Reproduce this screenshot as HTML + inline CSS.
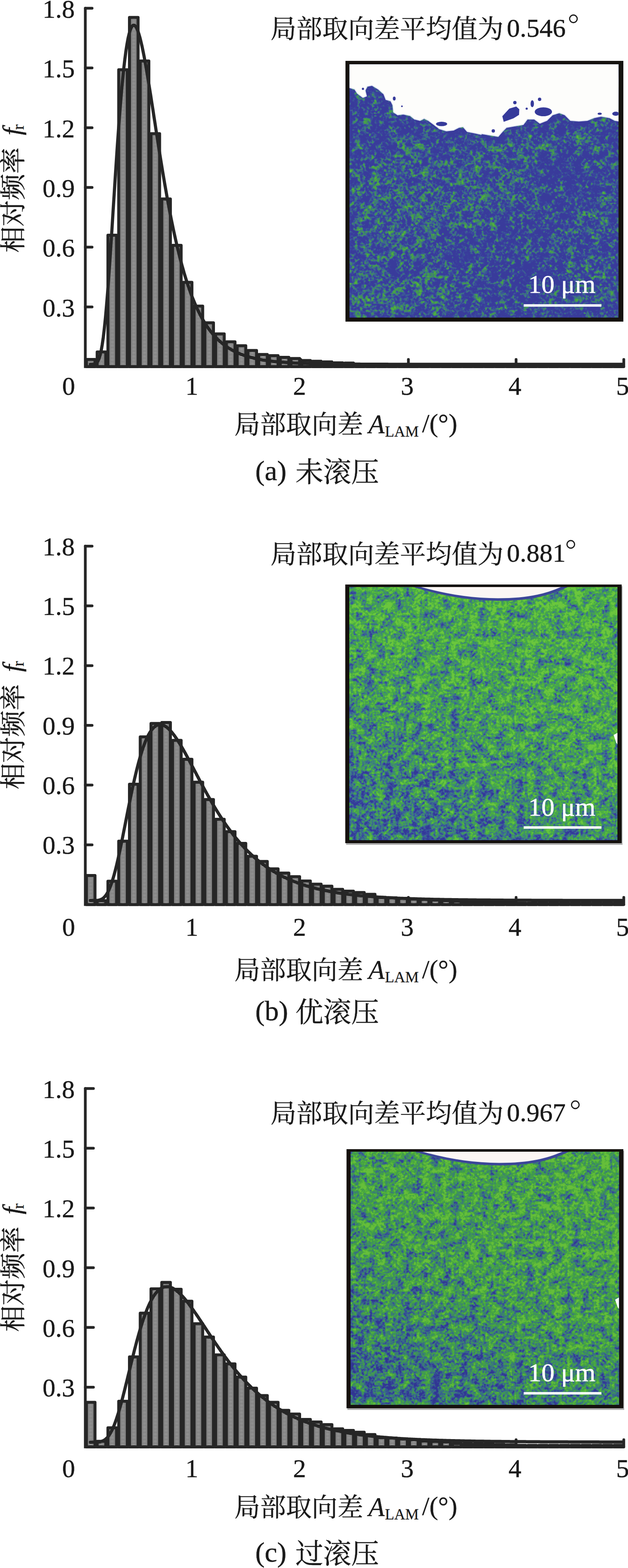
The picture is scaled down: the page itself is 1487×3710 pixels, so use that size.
<!DOCTYPE html><html><head><meta charset="utf-8"><title>fig</title><style>html,body{margin:0;padding:0;background:#fff}svg{display:block}text{font-family:"Liberation Serif","Noto Serif CJK SC",serif;fill:#1a1a1a;stroke:#1a1a1a;stroke-width:0.55px}</style></head><body>
<svg width="1487" height="3710" viewBox="0 0 1487 3710">
<defs>
<pattern id="bp" width="25.5" height="3.4" patternUnits="userSpaceOnUse" patternTransform="translate(202.0,0)"><rect width="25.5" height="3.4" fill="#828282"/><rect x="9.35" y="0" width="6.8" height="1.5" fill="#bebebe"/><rect x="9.35" y="1.5" width="6.8" height="1.9" fill="#6a6a6a"/></pattern>
</defs>
<g fill="url(#bp)" stroke="#262626" stroke-width="7" stroke-linejoin="round">
<rect x="204.55" y="850.54" width="20.4" height="16.96"/>
<rect x="230.05" y="832.64" width="20.4" height="34.86"/>
<rect x="255.55" y="556.57" width="20.4" height="310.93"/>
<rect x="281.05" y="165.07" width="20.4" height="702.43"/>
<rect x="306.55" y="41.17" width="20.4" height="826.33"/>
<rect x="332.05" y="144.34" width="20.4" height="723.16"/>
<rect x="357.55" y="316.30" width="20.4" height="551.20"/>
<rect x="383.05" y="470.82" width="20.4" height="396.68"/>
<rect x="408.55" y="580.59" width="20.4" height="286.91"/>
<rect x="434.05" y="667.98" width="20.4" height="199.52"/>
<rect x="459.55" y="724.28" width="20.4" height="143.22"/>
<rect x="485.05" y="763.86" width="20.4" height="103.64"/>
<rect x="510.55" y="790.00" width="20.4" height="77.50"/>
<rect x="536.05" y="808.80" width="20.4" height="58.70"/>
<rect x="561.55" y="818.03" width="20.4" height="49.47"/>
<rect x="587.05" y="829.34" width="20.4" height="38.16"/>
<rect x="612.55" y="838.76" width="20.4" height="28.74"/>
<rect x="638.05" y="841.49" width="20.4" height="26.01"/>
<rect x="663.55" y="845.50" width="20.4" height="22.00"/>
<rect x="689.05" y="848.18" width="20.4" height="19.32"/>
<rect x="714.55" y="852.90" width="20.4" height="14.60"/>
<rect x="740.05" y="854.78" width="20.4" height="12.72"/>
<rect x="765.55" y="856.19" width="20.4" height="11.31"/>
<rect x="791.05" y="858.55" width="20.4" height="8.95"/>
<rect x="816.55" y="859.02" width="20.4" height="8.48"/>
<rect x="842.05" y="861.85" width="20.4" height="5.65"/>
<rect x="867.55" y="862.79" width="20.4" height="4.71"/>
<rect x="893.05" y="863.73" width="20.4" height="3.77"/>
<rect x="918.55" y="865.62" width="20.4" height="1.88"/>
<rect x="944.05" y="865.62" width="20.4" height="1.88"/>
<rect x="969.55" y="865.62" width="20.4" height="1.88"/>
<rect x="995.05" y="865.62" width="20.4" height="1.88"/>
<rect x="1020.55" y="865.62" width="20.4" height="1.88"/>
<rect x="1046.05" y="865.62" width="20.4" height="1.88"/>
<rect x="1071.55" y="865.62" width="20.4" height="1.88"/>
<rect x="1097.05" y="865.62" width="20.4" height="1.88"/>
<rect x="1122.55" y="865.62" width="20.4" height="1.88"/>
<rect x="1148.05" y="865.62" width="20.4" height="1.88"/>
<rect x="1173.55" y="865.62" width="20.4" height="1.88"/>
<rect x="1199.05" y="865.62" width="20.4" height="1.88"/>
<rect x="1224.55" y="865.62" width="20.4" height="1.88"/>
<rect x="1250.05" y="865.62" width="20.4" height="1.88"/>
<rect x="1275.55" y="865.62" width="20.4" height="1.88"/>
<rect x="1301.05" y="865.62" width="20.4" height="1.88"/>
<rect x="1326.55" y="865.62" width="20.4" height="1.88"/>
<rect x="1352.05" y="865.62" width="20.4" height="1.88"/>
<rect x="1377.55" y="865.62" width="20.4" height="1.88"/>
<rect x="1403.05" y="865.62" width="20.4" height="1.88"/>
<rect x="1428.55" y="865.62" width="20.4" height="1.88"/>
<rect x="1454.05" y="865.62" width="20.4" height="1.88"/>
</g>
<path d="M214.0,862.0 L216.5,862.0 L219.1,861.9 L221.6,861.7 L224.2,861.2 L226.7,860.1 L229.3,858.0 L231.8,854.5 L234.4,849.0 L236.9,841.0 L239.5,830.0 L242.0,815.8 L244.6,798.0 L247.1,776.6 L249.7,751.7 L252.2,723.4 L254.8,691.9 L257.3,657.8 L259.9,621.4 L262.4,583.2 L265.0,543.9 L267.5,503.8 L270.1,463.6 L272.6,423.8 L275.2,384.8 L277.7,346.9 L280.3,310.7 L282.8,276.4 L285.4,244.2 L287.9,214.4 L290.5,187.1 L293.0,162.4 L295.6,140.5 L298.1,121.2 L300.7,104.7 L303.2,90.9 L305.8,79.8 L308.3,71.2 L310.9,65.0 L313.4,61.2 L316.0,59.5 L318.5,60.0 L321.1,62.4 L323.6,66.6 L326.2,72.5 L328.7,79.9 L331.3,88.7 L333.8,98.8 L336.4,109.9 L338.9,122.1 L341.5,135.1 L344.0,148.9 L346.6,163.3 L349.1,178.3 L351.7,193.8 L354.2,209.6 L356.8,225.7 L359.3,242.0 L361.9,258.4 L364.4,275.0 L367.0,291.5 L369.5,308.0 L372.1,324.5 L374.6,340.8 L377.2,356.9 L379.7,372.9 L382.3,388.6 L384.8,404.1 L387.4,419.4 L389.9,434.3 L392.5,448.9 L395.0,463.2 L397.6,477.2 L400.1,490.8 L402.7,504.1 L405.2,517.1 L407.8,529.7 L410.3,541.9 L412.9,553.8 L415.4,565.3 L418.0,576.5 L420.5,587.3 L423.1,597.8 L425.6,608.0 L428.2,617.8 L430.7,627.3 L433.3,636.4 L435.8,645.3 L438.4,653.8 L440.9,662.0 L443.5,669.9 L446.0,677.6 L448.6,685.0 L451.1,692.1 L453.7,698.9 L456.2,705.5 L458.8,711.8 L461.3,717.9 L463.9,723.7 L466.4,729.3 L469.0,734.7 L471.5,739.9 L474.1,744.9 L476.6,749.7 L479.2,754.3 L481.7,758.7 L484.3,763.0 L486.8,767.0 L489.4,770.9 L491.9,774.7 L494.5,778.3 L497.0,781.7 L499.6,785.0 L502.1,788.2 L504.7,791.3 L507.2,794.2 L509.8,797.0 L512.3,799.7 L514.9,802.2 L517.4,804.7 L520.0,807.1 L522.5,809.3 L525.1,811.5 L527.6,813.6 L530.2,815.6 L532.7,817.5 L535.3,819.3 L537.8,821.1 L540.4,822.8 L542.9,824.4 L545.5,825.9 L548.0,827.4 L550.6,828.8 L553.1,830.2 L555.7,831.5 L558.2,832.8 L560.8,834.0 L563.3,835.1 L565.9,836.2 L568.4,837.3 L571.0,838.3 L573.5,839.2 L576.1,840.2 L578.6,841.0 L581.2,841.9 L583.7,842.7 L586.3,843.5 L588.8,844.2 L591.4,845.0 L593.9,845.7 L596.5,846.3 L599.0,846.9 L601.6,847.5 L604.1,848.1 L606.7,848.7 L609.2,849.2 L611.8,849.7 L614.3,850.2 L616.9,850.7 L619.4,851.1 L622.0,851.6 L624.5,852.0 L627.1,852.4 L629.6,852.8 L632.2,853.1 L634.7,853.5 L637.3,853.8 L639.8,854.1 L642.4,854.5 L644.9,854.7 L647.5,855.0 L650.0,855.3 L652.6,855.6 L655.1,855.8 L657.7,856.1 L660.2,856.3 L662.8,856.5 L665.3,856.7 L667.9,856.9 L670.4,857.1 L673.0,857.3 L675.5,857.5 L678.1,857.7 L680.6,857.8 L683.2,858.0 L685.7,858.1 L688.3,858.3 L690.8,858.4 L693.4,858.6 L695.9,858.7 L698.5,858.8 L701.0,858.9 L703.6,859.1 L706.1,859.2 L708.7,859.3 L711.2,859.4 L713.8,859.5 L716.3,859.6 L718.9,859.7 L721.4,859.8 L724.0,859.8 L726.5,859.9 L729.1,860.0 L731.6,860.1 L734.2,860.1 L736.7,860.2 L739.3,860.3 L741.8,860.3 L744.4,860.4 L746.9,860.5 L749.5,860.5 L752.0,860.6 L754.6,860.6 L757.1,860.7 L759.7,860.7 L762.2,860.8 L764.8,860.8 L767.3,860.9 L769.9,860.9 L772.4,860.9 L775.0,861.0 L777.5,861.0 L780.1,861.0 L782.6,861.1 L785.2,861.1 L787.7,861.1 L790.3,861.2 L792.8,861.2 L795.4,861.2 L797.9,861.3 L800.5,861.3 L803.0,861.3 L805.6,861.3 L808.1,861.4 L810.7,861.4 L813.2,861.4 L815.8,861.4 L818.3,861.4 L820.9,861.5 L823.4,861.5 L826.0,861.5 L828.5,861.5 L831.1,861.5 L833.6,861.5 L836.2,861.6 L838.7,861.6 L841.3,861.6 L843.8,861.6 L846.4,861.6 L848.9,861.6 L851.5,861.6 L854.0,861.7 L856.6,861.7 L859.1,861.7 L861.7,861.7 L864.2,861.7 L866.8,861.7 L869.3,861.7 L871.9,861.7 L874.4,861.7 L877.0,861.7 L879.5,861.8 L882.1,861.8 L884.6,861.8 L887.2,861.8 L889.7,861.8 L892.3,861.8 L894.8,861.8 L897.4,861.8 L899.9,861.8 L902.5,861.8 L905.0,861.8 L907.6,861.8 L910.1,861.8 L912.7,861.8 L915.2,861.8 L917.8,861.8 L920.3,861.9 L922.9,861.9 L925.4,861.9 L928.0,861.9 L930.5,861.9 L933.1,861.9 L935.6,861.9 L938.2,861.9 L940.7,861.9 L943.3,861.9 L945.8,861.9 L948.4,861.9 L950.9,861.9 L953.5,861.9 L956.0,861.9 L958.6,861.9 L961.1,861.9 L963.7,861.9 L966.2,861.9 L968.8,861.9 L971.3,861.9 L973.9,861.9 L976.4,861.9 L979.0,861.9 L981.5,861.9 L984.1,861.9 L986.6,861.9 L989.2,861.9 L991.7,861.9 L994.3,861.9 L996.8,861.9 L999.4,861.9 L1001.9,861.9 L1004.5,861.9 L1007.0,861.9 L1009.6,861.9 L1012.1,861.9 L1014.7,861.9 L1017.2,861.9 L1019.8,861.9 L1022.3,862.0 L1024.9,862.0 L1027.4,862.0 L1030.0,862.0 L1032.5,862.0 L1035.1,862.0 L1037.6,862.0 L1040.2,862.0 L1042.7,862.0 L1045.3,862.0 L1047.8,862.0 L1050.4,862.0 L1052.9,862.0 L1055.5,862.0 L1058.0,862.0 L1060.6,862.0 L1063.1,862.0 L1065.7,862.0 L1068.2,862.0 L1070.8,862.0 L1073.3,862.0 L1075.9,862.0 L1078.4,862.0 L1081.0,862.0 L1083.5,862.0 L1086.1,862.0 L1088.6,862.0 L1091.2,862.0 L1093.7,862.0 L1096.3,862.0 L1098.8,862.0 L1101.4,862.0 L1103.9,862.0 L1106.5,862.0 L1109.0,862.0 L1111.6,862.0 L1114.1,862.0 L1116.7,862.0 L1119.2,862.0 L1121.8,862.0 L1124.3,862.0 L1126.9,862.0 L1129.4,862.0 L1132.0,862.0 L1134.5,862.0 L1137.1,862.0 L1139.6,862.0 L1142.2,862.0 L1144.7,862.0 L1147.3,862.0 L1149.8,862.0 L1152.4,862.0 L1154.9,862.0 L1157.5,862.0 L1160.0,862.0 L1162.6,862.0 L1165.1,862.0 L1167.7,862.0 L1170.2,862.0 L1172.8,862.0 L1175.3,862.0 L1177.9,862.0 L1180.4,862.0 L1183.0,862.0 L1185.5,862.0 L1188.1,862.0 L1190.6,862.0 L1193.2,862.0 L1195.7,862.0 L1198.3,862.0 L1200.8,862.0 L1203.4,862.0 L1205.9,862.0 L1208.5,862.0 L1211.0,862.0 L1213.6,862.0 L1216.1,862.0 L1218.7,862.0 L1221.2,862.0 L1223.8,862.0 L1226.3,862.0 L1228.9,862.0 L1231.4,862.0 L1234.0,862.0 L1236.5,862.0 L1239.1,862.0 L1241.6,862.0 L1244.2,862.0 L1246.7,862.0 L1249.3,862.0 L1251.8,862.0 L1254.4,862.0 L1256.9,862.0 L1259.5,862.0 L1262.0,862.0 L1264.6,862.0 L1267.1,862.0 L1269.7,862.0 L1272.2,862.0 L1274.8,862.0 L1277.3,862.0 L1279.9,862.0 L1282.4,862.0 L1285.0,862.0 L1287.5,862.0 L1290.1,862.0 L1292.6,862.0 L1295.2,862.0 L1297.7,862.0 L1300.3,862.0 L1302.8,862.0 L1305.4,862.0 L1307.9,862.0 L1310.5,862.0 L1313.0,862.0 L1315.6,862.0 L1318.1,862.0 L1320.7,862.0 L1323.2,862.0 L1325.8,862.0 L1328.3,862.0 L1330.9,862.0 L1333.4,862.0 L1336.0,862.0 L1338.5,862.0 L1341.1,862.0 L1343.6,862.0 L1346.2,862.0 L1348.7,862.0 L1351.3,862.0 L1353.8,862.0 L1356.4,862.0 L1358.9,862.0 L1361.5,862.0 L1364.0,862.0 L1366.6,862.0 L1369.1,862.0 L1371.7,862.0 L1374.2,862.0 L1376.8,862.0 L1379.3,862.0 L1381.9,862.0 L1384.4,862.0 L1387.0,862.0 L1389.5,862.0 L1392.1,862.0 L1394.6,862.0 L1397.2,862.0 L1399.7,862.0 L1402.3,862.0 L1404.8,862.0 L1407.4,862.0 L1409.9,862.0 L1412.5,862.0 L1415.0,862.0 L1417.6,862.0 L1420.1,862.0 L1422.7,862.0 L1425.2,862.0 L1427.8,862.0 L1430.3,862.0 L1432.9,862.0 L1435.4,862.0 L1438.0,862.0 L1440.5,862.0 L1443.1,862.0 L1445.6,862.0 L1448.2,862.0 L1450.7,862.0 L1453.3,862.0 L1455.8,862.0 L1458.4,862.0 L1460.9,862.0 L1463.5,862.0 L1466.0,862.0 L1468.6,862.0 L1471.1,862.0 L1473.7,862.0 L1476.2,862.0" fill="none" stroke="#262626" stroke-width="7.5" stroke-linejoin="round" stroke-linecap="round"/>
<g stroke="#262626" stroke-width="6.5" stroke-linecap="round" fill="none">
<path d="M202.0,19.5 V867.5 H1477.0"/>
<path d="M202.0,726.2 H218.0"/>
<path d="M202.0,584.8 H218.0"/>
<path d="M202.0,443.5 H218.0"/>
<path d="M202.0,302.2 H218.0"/>
<path d="M202.0,160.8 H218.0"/>
<path d="M202.0,19.5 H218.0"/>
<path d="M457.0,867.5 V850.5"/>
<path d="M712.0,867.5 V850.5"/>
<path d="M967.0,867.5 V850.5"/>
<path d="M1222.0,867.5 V850.5"/>
<path d="M1477.0,867.5 V850.5"/>
</g>
<text x="177" y="748.8" font-size="61" text-anchor="end">0.3</text>
<text x="177" y="607.4" font-size="61" text-anchor="end">0.6</text>
<text x="177" y="466.1" font-size="61" text-anchor="end">0.9</text>
<text x="177" y="324.8" font-size="61" text-anchor="end">1.2</text>
<text x="177" y="183.4" font-size="61" text-anchor="end">1.5</text>
<text x="177" y="42.1" font-size="61" text-anchor="end">1.8</text>
<text x="162.5" y="934.2" font-size="61" text-anchor="middle">0</text>
<text x="454.2" y="934.2" font-size="61" text-anchor="middle">1</text>
<text x="709.2" y="934.2" font-size="61" text-anchor="middle">2</text>
<text x="964.2" y="934.2" font-size="61" text-anchor="middle">3</text>
<text x="1219.2" y="934.2" font-size="61" text-anchor="middle">4</text>
<text x="1474.2" y="934.2" font-size="61" text-anchor="middle">5</text>
<g transform="translate(52.5,598) rotate(-90)">
<text x="0" y="0" font-size="62.3">相对频率</text>
<text x="278" y="-3.5" font-size="62" font-style="italic">f</text><text x="291" y="3.5" font-size="38" style="stroke-width:0.4px">r</text>
</g>
<text x="640.5" y="90" font-size="61.3">局部取向差平均值为</text>
<text x="1200" y="86.5" font-size="62">0.546</text>
<circle cx="1357.75" cy="44.5" r="9" fill="none" stroke="#1a1a1a" stroke-width="2.8"/>
<text x="555" y="1025.5" font-size="61">局部取向差</text>
<text x="872.5" y="1024.5" font-size="62.5" font-style="italic" style="stroke-width:0.35px">A</text>
<text x="911.5" y="1032.5" font-size="36" style="stroke-width:0.35px">LAM</text>
<text x="999.5" y="1022.0" font-size="62" style="stroke-width:0.45px">/(°)</text>
<text x="604.5" y="1136.0" font-size="66.5">(a)</text>
<text x="699.5" y="1140" font-size="66">未滚压</text>
<g fill="url(#bp)" stroke="#262626" stroke-width="7" stroke-linejoin="round">
<rect x="204.55" y="2071.52" width="20.4" height="68.78"/>
<rect x="230.05" y="2130.88" width="20.4" height="9.42"/>
<rect x="255.55" y="2084.94" width="20.4" height="55.36"/>
<rect x="281.05" y="1990.25" width="20.4" height="150.05"/>
<rect x="306.55" y="1855.51" width="20.4" height="284.79"/>
<rect x="332.05" y="1743.39" width="20.4" height="396.91"/>
<rect x="357.55" y="1711.82" width="20.4" height="428.48"/>
<rect x="383.05" y="1709.47" width="20.4" height="430.83"/>
<rect x="408.55" y="1751.87" width="20.4" height="388.43"/>
<rect x="434.05" y="1796.62" width="20.4" height="343.68"/>
<rect x="459.55" y="1850.80" width="20.4" height="289.50"/>
<rect x="485.05" y="1891.79" width="20.4" height="248.51"/>
<rect x="510.55" y="1938.43" width="20.4" height="201.87"/>
<rect x="536.05" y="1967.64" width="20.4" height="172.66"/>
<rect x="561.55" y="1995.43" width="20.4" height="144.87"/>
<rect x="587.05" y="2026.06" width="20.4" height="114.24"/>
<rect x="612.55" y="2038.30" width="20.4" height="102.00"/>
<rect x="638.05" y="2055.74" width="20.4" height="84.56"/>
<rect x="663.55" y="2065.63" width="20.4" height="74.67"/>
<rect x="689.05" y="2074.34" width="20.4" height="65.96"/>
<rect x="714.55" y="2084.47" width="20.4" height="55.83"/>
<rect x="740.05" y="2092.01" width="20.4" height="48.29"/>
<rect x="765.55" y="2096.72" width="20.4" height="43.58"/>
<rect x="791.05" y="2104.26" width="20.4" height="36.04"/>
<rect x="816.55" y="2108.50" width="20.4" height="31.80"/>
<rect x="842.05" y="2111.80" width="20.4" height="28.50"/>
<rect x="867.55" y="2116.04" width="20.4" height="24.26"/>
<rect x="893.05" y="2123.20" width="20.4" height="17.10"/>
<rect x="918.55" y="2124.19" width="20.4" height="16.11"/>
<rect x="944.05" y="2125.51" width="20.4" height="14.79"/>
<rect x="969.55" y="2127.20" width="20.4" height="13.10"/>
<rect x="995.05" y="2128.19" width="20.4" height="12.11"/>
<rect x="1020.55" y="2129.46" width="20.4" height="10.84"/>
<rect x="1046.05" y="2130.88" width="20.4" height="9.42"/>
<rect x="1071.55" y="2132.29" width="20.4" height="8.01"/>
<rect x="1097.05" y="2134.18" width="20.4" height="6.12"/>
<rect x="1122.55" y="2134.65" width="20.4" height="5.65"/>
<rect x="1148.05" y="2135.12" width="20.4" height="5.18"/>
<rect x="1173.55" y="2135.59" width="20.4" height="4.71"/>
<rect x="1199.05" y="2136.06" width="20.4" height="4.24"/>
<rect x="1224.55" y="2137.00" width="20.4" height="3.30"/>
<rect x="1250.05" y="2137.00" width="20.4" height="3.30"/>
<rect x="1275.55" y="2137.00" width="20.4" height="3.30"/>
<rect x="1301.05" y="2137.00" width="20.4" height="3.30"/>
<rect x="1326.55" y="2137.00" width="20.4" height="3.30"/>
<rect x="1352.05" y="2137.00" width="20.4" height="3.30"/>
<rect x="1377.55" y="2137.00" width="20.4" height="3.30"/>
<rect x="1403.05" y="2137.00" width="20.4" height="3.30"/>
<rect x="1428.55" y="2137.00" width="20.4" height="3.30"/>
<rect x="1454.05" y="2137.00" width="20.4" height="3.30"/>
</g>
<path d="M214.0,2130.6 L216.5,2130.6 L219.1,2130.6 L221.6,2130.6 L224.2,2130.6 L226.7,2130.5 L229.3,2130.4 L231.8,2130.1 L234.4,2129.7 L236.9,2129.1 L239.5,2128.1 L242.0,2126.8 L244.6,2125.0 L247.1,2122.6 L249.7,2119.7 L252.2,2116.1 L254.8,2111.8 L257.3,2106.8 L259.9,2101.0 L262.4,2094.5 L265.0,2087.2 L267.5,2079.1 L270.1,2070.3 L272.6,2060.9 L275.2,2050.8 L277.7,2040.1 L280.3,2028.9 L282.8,2017.2 L285.4,2005.2 L287.9,1992.8 L290.5,1980.2 L293.0,1967.4 L295.6,1954.5 L298.1,1941.6 L300.7,1928.6 L303.2,1915.8 L305.8,1903.0 L308.3,1890.5 L310.9,1878.2 L313.4,1866.2 L316.0,1854.5 L318.5,1843.2 L321.1,1832.3 L323.6,1821.8 L326.2,1811.7 L328.7,1802.2 L331.3,1793.0 L333.8,1784.4 L336.4,1776.3 L338.9,1768.8 L341.5,1761.7 L344.0,1755.1 L346.6,1749.1 L349.1,1743.6 L351.7,1738.6 L354.2,1734.1 L356.8,1730.1 L359.3,1726.6 L361.9,1723.5 L364.4,1721.0 L367.0,1718.8 L369.5,1717.1 L372.1,1715.9 L374.6,1715.0 L377.2,1714.5 L379.7,1714.4 L382.3,1714.7 L384.8,1715.3 L387.4,1716.3 L389.9,1717.5 L392.5,1719.1 L395.0,1720.9 L397.6,1723.0 L400.1,1725.4 L402.7,1728.0 L405.2,1730.8 L407.8,1733.8 L410.3,1737.0 L412.9,1740.4 L415.4,1744.0 L418.0,1747.7 L420.5,1751.5 L423.1,1755.5 L425.6,1759.6 L428.2,1763.9 L430.7,1768.2 L433.3,1772.6 L435.8,1777.1 L438.4,1781.7 L440.9,1786.3 L443.5,1791.0 L446.0,1795.7 L448.6,1800.4 L451.1,1805.2 L453.7,1810.0 L456.2,1814.9 L458.8,1819.7 L461.3,1824.6 L463.9,1829.4 L466.4,1834.3 L469.0,1839.1 L471.5,1843.9 L474.1,1848.7 L476.6,1853.5 L479.2,1858.3 L481.7,1863.0 L484.3,1867.7 L486.8,1872.4 L489.4,1877.0 L491.9,1881.6 L494.5,1886.1 L497.0,1890.6 L499.6,1895.1 L502.1,1899.5 L504.7,1903.8 L507.2,1908.1 L509.8,1912.4 L512.3,1916.6 L514.9,1920.7 L517.4,1924.8 L520.0,1928.8 L522.5,1932.8 L525.1,1936.7 L527.6,1940.6 L530.2,1944.4 L532.7,1948.1 L535.3,1951.8 L537.8,1955.5 L540.4,1959.0 L542.9,1962.5 L545.5,1966.0 L548.0,1969.4 L550.6,1972.7 L553.1,1976.0 L555.7,1979.2 L558.2,1982.4 L560.8,1985.5 L563.3,1988.5 L565.9,1991.5 L568.4,1994.5 L571.0,1997.3 L573.5,2000.2 L576.1,2003.0 L578.6,2005.7 L581.2,2008.4 L583.7,2011.0 L586.3,2013.5 L588.8,2016.1 L591.4,2018.5 L593.9,2021.0 L596.5,2023.3 L599.0,2025.6 L601.6,2027.9 L604.1,2030.2 L606.7,2032.3 L609.2,2034.5 L611.8,2036.6 L614.3,2038.6 L616.9,2040.6 L619.4,2042.6 L622.0,2044.5 L624.5,2046.4 L627.1,2048.3 L629.6,2050.1 L632.2,2051.9 L634.7,2053.6 L637.3,2055.3 L639.8,2057.0 L642.4,2058.6 L644.9,2060.2 L647.5,2061.7 L650.0,2063.2 L652.6,2064.7 L655.1,2066.2 L657.7,2067.6 L660.2,2069.0 L662.8,2070.4 L665.3,2071.7 L667.9,2073.0 L670.4,2074.3 L673.0,2075.5 L675.5,2076.7 L678.1,2077.9 L680.6,2079.1 L683.2,2080.2 L685.7,2081.4 L688.3,2082.5 L690.8,2083.5 L693.4,2084.6 L695.9,2085.6 L698.5,2086.6 L701.0,2087.6 L703.6,2088.5 L706.1,2089.4 L708.7,2090.4 L711.2,2091.2 L713.8,2092.1 L716.3,2093.0 L718.9,2093.8 L721.4,2094.6 L724.0,2095.4 L726.5,2096.2 L729.1,2096.9 L731.6,2097.7 L734.2,2098.4 L736.7,2099.1 L739.3,2099.8 L741.8,2100.5 L744.4,2101.2 L746.9,2101.8 L749.5,2102.4 L752.0,2103.1 L754.6,2103.7 L757.1,2104.3 L759.7,2104.8 L762.2,2105.4 L764.8,2106.0 L767.3,2106.5 L769.9,2107.0 L772.4,2107.5 L775.0,2108.0 L777.5,2108.5 L780.1,2109.0 L782.6,2109.5 L785.2,2110.0 L787.7,2110.4 L790.3,2110.8 L792.8,2111.3 L795.4,2111.7 L797.9,2112.1 L800.5,2112.5 L803.0,2112.9 L805.6,2113.3 L808.1,2113.7 L810.7,2114.0 L813.2,2114.4 L815.8,2114.7 L818.3,2115.1 L820.9,2115.4 L823.4,2115.7 L826.0,2116.1 L828.5,2116.4 L831.1,2116.7 L833.6,2117.0 L836.2,2117.3 L838.7,2117.6 L841.3,2117.8 L843.8,2118.1 L846.4,2118.4 L848.9,2118.7 L851.5,2118.9 L854.0,2119.2 L856.6,2119.4 L859.1,2119.6 L861.7,2119.9 L864.2,2120.1 L866.8,2120.3 L869.3,2120.5 L871.9,2120.8 L874.4,2121.0 L877.0,2121.2 L879.5,2121.4 L882.1,2121.6 L884.6,2121.8 L887.2,2121.9 L889.7,2122.1 L892.3,2122.3 L894.8,2122.5 L897.4,2122.7 L899.9,2122.8 L902.5,2123.0 L905.0,2123.1 L907.6,2123.3 L910.1,2123.5 L912.7,2123.6 L915.2,2123.8 L917.8,2123.9 L920.3,2124.0 L922.9,2124.2 L925.4,2124.3 L928.0,2124.4 L930.5,2124.6 L933.1,2124.7 L935.6,2124.8 L938.2,2124.9 L940.7,2125.1 L943.3,2125.2 L945.8,2125.3 L948.4,2125.4 L950.9,2125.5 L953.5,2125.6 L956.0,2125.7 L958.6,2125.8 L961.1,2125.9 L963.7,2126.0 L966.2,2126.1 L968.8,2126.2 L971.3,2126.3 L973.9,2126.4 L976.4,2126.5 L979.0,2126.5 L981.5,2126.6 L984.1,2126.7 L986.6,2126.8 L989.2,2126.9 L991.7,2126.9 L994.3,2127.0 L996.8,2127.1 L999.4,2127.2 L1001.9,2127.2 L1004.5,2127.3 L1007.0,2127.4 L1009.6,2127.4 L1012.1,2127.5 L1014.7,2127.6 L1017.2,2127.6 L1019.8,2127.7 L1022.3,2127.7 L1024.9,2127.8 L1027.4,2127.9 L1030.0,2127.9 L1032.5,2128.0 L1035.1,2128.0 L1037.6,2128.1 L1040.2,2128.1 L1042.7,2128.2 L1045.3,2128.2 L1047.8,2128.3 L1050.4,2128.3 L1052.9,2128.4 L1055.5,2128.4 L1058.0,2128.5 L1060.6,2128.5 L1063.1,2128.5 L1065.7,2128.6 L1068.2,2128.6 L1070.8,2128.7 L1073.3,2128.7 L1075.9,2128.7 L1078.4,2128.8 L1081.0,2128.8 L1083.5,2128.8 L1086.1,2128.9 L1088.6,2128.9 L1091.2,2128.9 L1093.7,2129.0 L1096.3,2129.0 L1098.8,2129.0 L1101.4,2129.1 L1103.9,2129.1 L1106.5,2129.1 L1109.0,2129.2 L1111.6,2129.2 L1114.1,2129.2 L1116.7,2129.2 L1119.2,2129.3 L1121.8,2129.3 L1124.3,2129.3 L1126.9,2129.3 L1129.4,2129.4 L1132.0,2129.4 L1134.5,2129.4 L1137.1,2129.4 L1139.6,2129.5 L1142.2,2129.5 L1144.7,2129.5 L1147.3,2129.5 L1149.8,2129.6 L1152.4,2129.6 L1154.9,2129.6 L1157.5,2129.6 L1160.0,2129.6 L1162.6,2129.7 L1165.1,2129.7 L1167.7,2129.7 L1170.2,2129.7 L1172.8,2129.7 L1175.3,2129.7 L1177.9,2129.8 L1180.4,2129.8 L1183.0,2129.8 L1185.5,2129.8 L1188.1,2129.8 L1190.6,2129.8 L1193.2,2129.9 L1195.7,2129.9 L1198.3,2129.9 L1200.8,2129.9 L1203.4,2129.9 L1205.9,2129.9 L1208.5,2129.9 L1211.0,2129.9 L1213.6,2130.0 L1216.1,2130.0 L1218.7,2130.0 L1221.2,2130.0 L1223.8,2130.0 L1226.3,2130.0 L1228.9,2130.0 L1231.4,2130.0 L1234.0,2130.1 L1236.5,2130.1 L1239.1,2130.1 L1241.6,2130.1 L1244.2,2130.1 L1246.7,2130.1 L1249.3,2130.1 L1251.8,2130.1 L1254.4,2130.1 L1256.9,2130.1 L1259.5,2130.2 L1262.0,2130.2 L1264.6,2130.2 L1267.1,2130.2 L1269.7,2130.2 L1272.2,2130.2 L1274.8,2130.2 L1277.3,2130.2 L1279.9,2130.2 L1282.4,2130.2 L1285.0,2130.2 L1287.5,2130.2 L1290.1,2130.2 L1292.6,2130.3 L1295.2,2130.3 L1297.7,2130.3 L1300.3,2130.3 L1302.8,2130.3 L1305.4,2130.3 L1307.9,2130.3 L1310.5,2130.3 L1313.0,2130.3 L1315.6,2130.3 L1318.1,2130.3 L1320.7,2130.3 L1323.2,2130.3 L1325.8,2130.3 L1328.3,2130.3 L1330.9,2130.3 L1333.4,2130.4 L1336.0,2130.4 L1338.5,2130.4 L1341.1,2130.4 L1343.6,2130.4 L1346.2,2130.4 L1348.7,2130.4 L1351.3,2130.4 L1353.8,2130.4 L1356.4,2130.4 L1358.9,2130.4 L1361.5,2130.4 L1364.0,2130.4 L1366.6,2130.4 L1369.1,2130.4 L1371.7,2130.4 L1374.2,2130.4 L1376.8,2130.4 L1379.3,2130.4 L1381.9,2130.4 L1384.4,2130.4 L1387.0,2130.4 L1389.5,2130.4 L1392.1,2130.4 L1394.6,2130.5 L1397.2,2130.5 L1399.7,2130.5 L1402.3,2130.5 L1404.8,2130.5 L1407.4,2130.5 L1409.9,2130.5 L1412.5,2130.5 L1415.0,2130.5 L1417.6,2130.5 L1420.1,2130.5 L1422.7,2130.5 L1425.2,2130.5 L1427.8,2130.5 L1430.3,2130.5 L1432.9,2130.5 L1435.4,2130.5 L1438.0,2130.5 L1440.5,2130.5 L1443.1,2130.5 L1445.6,2130.5 L1448.2,2130.5 L1450.7,2130.5 L1453.3,2130.5 L1455.8,2130.5 L1458.4,2130.5 L1460.9,2130.5 L1463.5,2130.5 L1466.0,2130.5 L1468.6,2130.5 L1471.1,2130.5 L1473.7,2130.5 L1476.2,2130.5" fill="none" stroke="#262626" stroke-width="7.5" stroke-linejoin="round" stroke-linecap="round"/>
<g stroke="#262626" stroke-width="6.5" stroke-linecap="round" fill="none">
<path d="M202.0,1292.0 V2140.3 H1477.0"/>
<path d="M202.0,1999.0 H218.0"/>
<path d="M202.0,1857.6 H218.0"/>
<path d="M202.0,1716.3 H218.0"/>
<path d="M202.0,1575.0 H218.0"/>
<path d="M202.0,1433.6 H218.0"/>
<path d="M202.0,1292.3 H218.0"/>
<path d="M457.0,2140.3 V2123.3"/>
<path d="M712.0,2140.3 V2123.3"/>
<path d="M967.0,2140.3 V2123.3"/>
<path d="M1222.0,2140.3 V2123.3"/>
<path d="M1477.0,2140.3 V2123.3"/>
</g>
<text x="177" y="2020.2" font-size="61" text-anchor="end">0.3</text>
<text x="177" y="1878.8" font-size="61" text-anchor="end">0.6</text>
<text x="177" y="1737.5" font-size="61" text-anchor="end">0.9</text>
<text x="177" y="1596.2" font-size="61" text-anchor="end">1.2</text>
<text x="177" y="1454.8" font-size="61" text-anchor="end">1.5</text>
<text x="177" y="1313.5" font-size="61" text-anchor="end">1.8</text>
<text x="162.5" y="2214.0" font-size="61" text-anchor="middle">0</text>
<text x="454.2" y="2214.0" font-size="61" text-anchor="middle">1</text>
<text x="709.2" y="2214.0" font-size="61" text-anchor="middle">2</text>
<text x="964.2" y="2214.0" font-size="61" text-anchor="middle">3</text>
<text x="1219.2" y="2214.0" font-size="61" text-anchor="middle">4</text>
<text x="1474.2" y="2214.0" font-size="61" text-anchor="middle">5</text>
<g transform="translate(52.5,1867.8) rotate(-90)">
<text x="0" y="0" font-size="62.3">相对频率</text>
<text x="278" y="-3.5" font-size="62" font-style="italic">f</text><text x="291" y="3.5" font-size="38" style="stroke-width:0.4px">r</text>
</g>
<text x="640.5" y="1332.5" font-size="61.3">局部取向差平均值为</text>
<text x="1200" y="1329.0" font-size="62">0.881</text>
<circle cx="1351.5" cy="1288" r="9" fill="none" stroke="#1a1a1a" stroke-width="2.8"/>
<text x="555" y="2317" font-size="61">局部取向差</text>
<text x="872.5" y="2316.0" font-size="62.5" font-style="italic" style="stroke-width:0.35px">A</text>
<text x="911.5" y="2324.0" font-size="36" style="stroke-width:0.35px">LAM</text>
<text x="999.5" y="2313.5" font-size="62" style="stroke-width:0.45px">/(°)</text>
<text x="604.5" y="2414.0" font-size="66.5">(b)</text>
<text x="699.5" y="2418" font-size="66">优滚压</text>
<g fill="url(#bp)" stroke="#262626" stroke-width="7" stroke-linejoin="round">
<rect x="204.55" y="3317.97" width="20.4" height="105.53"/>
<rect x="230.05" y="3410.31" width="20.4" height="13.19"/>
<rect x="255.55" y="3378.27" width="20.4" height="45.23"/>
<rect x="281.05" y="3315.62" width="20.4" height="107.88"/>
<rect x="306.55" y="3210.56" width="20.4" height="212.94"/>
<rect x="332.05" y="3106.91" width="20.4" height="316.59"/>
<rect x="357.55" y="3049.44" width="20.4" height="374.06"/>
<rect x="383.05" y="3034.36" width="20.4" height="389.14"/>
<rect x="408.55" y="3050.38" width="20.4" height="373.12"/>
<rect x="434.05" y="3078.65" width="20.4" height="344.85"/>
<rect x="459.55" y="3131.88" width="20.4" height="291.62"/>
<rect x="485.05" y="3163.45" width="20.4" height="260.05"/>
<rect x="510.55" y="3205.85" width="20.4" height="217.65"/>
<rect x="536.05" y="3227.05" width="20.4" height="196.45"/>
<rect x="561.55" y="3258.14" width="20.4" height="165.36"/>
<rect x="587.05" y="3284.52" width="20.4" height="138.98"/>
<rect x="612.55" y="3301.95" width="20.4" height="121.55"/>
<rect x="638.05" y="3317.97" width="20.4" height="105.53"/>
<rect x="663.55" y="3337.05" width="20.4" height="86.45"/>
<rect x="689.05" y="3345.77" width="20.4" height="77.73"/>
<rect x="714.55" y="3358.49" width="20.4" height="65.01"/>
<rect x="740.05" y="3364.61" width="20.4" height="58.89"/>
<rect x="765.55" y="3370.74" width="20.4" height="52.76"/>
<rect x="791.05" y="3380.63" width="20.4" height="42.87"/>
<rect x="816.55" y="3384.40" width="20.4" height="39.10"/>
<rect x="842.05" y="3388.64" width="20.4" height="34.86"/>
<rect x="867.55" y="3394.29" width="20.4" height="29.21"/>
<rect x="893.05" y="3401.50" width="20.4" height="22.00"/>
<rect x="918.55" y="3402.49" width="20.4" height="21.01"/>
<rect x="944.05" y="3404.80" width="20.4" height="18.70"/>
<rect x="969.55" y="3406.54" width="20.4" height="16.96"/>
<rect x="995.05" y="3409.84" width="20.4" height="13.66"/>
<rect x="1020.55" y="3410.78" width="20.4" height="12.72"/>
<rect x="1046.05" y="3411.49" width="20.4" height="12.01"/>
<rect x="1071.55" y="3415.49" width="20.4" height="8.01"/>
<rect x="1097.05" y="3416.43" width="20.4" height="7.07"/>
<rect x="1122.55" y="3416.43" width="20.4" height="7.07"/>
<rect x="1148.05" y="3416.90" width="20.4" height="6.60"/>
<rect x="1173.55" y="3417.85" width="20.4" height="5.65"/>
<rect x="1199.05" y="3418.79" width="20.4" height="4.71"/>
<rect x="1224.55" y="3419.73" width="20.4" height="3.77"/>
<rect x="1250.05" y="3419.73" width="20.4" height="3.77"/>
<rect x="1275.55" y="3419.73" width="20.4" height="3.77"/>
<rect x="1301.05" y="3419.73" width="20.4" height="3.77"/>
<rect x="1326.55" y="3419.73" width="20.4" height="3.77"/>
<rect x="1352.05" y="3419.73" width="20.4" height="3.77"/>
<rect x="1377.55" y="3419.73" width="20.4" height="3.77"/>
<rect x="1403.05" y="3419.73" width="20.4" height="3.77"/>
<rect x="1428.55" y="3419.73" width="20.4" height="3.77"/>
<rect x="1454.05" y="3419.73" width="20.4" height="3.77"/>
</g>
<path d="M214.0,3412.2 L216.5,3412.2 L219.1,3412.2 L221.6,3412.2 L224.2,3412.2 L226.7,3412.1 L229.3,3412.1 L231.8,3411.9 L234.4,3411.7 L236.9,3411.3 L239.5,3410.7 L242.0,3409.9 L244.6,3408.8 L247.1,3407.4 L249.7,3405.6 L252.2,3403.3 L254.8,3400.6 L257.3,3397.3 L259.9,3393.5 L262.4,3389.1 L265.0,3384.2 L267.5,3378.7 L270.1,3372.6 L272.6,3366.0 L275.2,3358.9 L277.7,3351.2 L280.3,3343.1 L282.8,3334.5 L285.4,3325.6 L287.9,3316.3 L290.5,3306.7 L293.0,3296.8 L295.6,3286.7 L298.1,3276.4 L300.7,3266.1 L303.2,3255.6 L305.8,3245.2 L308.3,3234.7 L310.9,3224.3 L313.4,3214.1 L316.0,3203.9 L318.5,3193.9 L321.1,3184.1 L323.6,3174.5 L326.2,3165.2 L328.7,3156.2 L331.3,3147.4 L333.8,3139.0 L336.4,3130.9 L338.9,3123.1 L341.5,3115.7 L344.0,3108.7 L346.6,3102.0 L349.1,3095.7 L351.7,3089.8 L354.2,3084.2 L356.8,3079.1 L359.3,3074.3 L361.9,3069.9 L364.4,3065.9 L367.0,3062.2 L369.5,3058.9 L372.1,3056.0 L374.6,3053.4 L377.2,3051.2 L379.7,3049.2 L382.3,3047.7 L384.8,3046.4 L387.4,3045.4 L389.9,3044.7 L392.5,3044.4 L395.0,3044.2 L397.6,3044.4 L400.1,3044.8 L402.7,3045.4 L405.2,3046.3 L407.8,3047.4 L410.3,3048.7 L412.9,3050.2 L415.4,3051.9 L418.0,3053.8 L420.5,3055.9 L423.1,3058.1 L425.6,3060.5 L428.2,3063.0 L430.7,3065.6 L433.3,3068.4 L435.8,3071.3 L438.4,3074.3 L440.9,3077.4 L443.5,3080.6 L446.0,3083.9 L448.6,3087.2 L451.1,3090.7 L453.7,3094.2 L456.2,3097.7 L458.8,3101.3 L461.3,3105.0 L463.9,3108.7 L466.4,3112.4 L469.0,3116.2 L471.5,3120.0 L474.1,3123.8 L476.6,3127.7 L479.2,3131.5 L481.7,3135.4 L484.3,3139.2 L486.8,3143.1 L489.4,3147.0 L491.9,3150.8 L494.5,3154.7 L497.0,3158.5 L499.6,3162.4 L502.1,3166.2 L504.7,3170.0 L507.2,3173.7 L509.8,3177.5 L512.3,3181.2 L514.9,3184.9 L517.4,3188.6 L520.0,3192.2 L522.5,3195.9 L525.1,3199.4 L527.6,3203.0 L530.2,3206.5 L532.7,3210.0 L535.3,3213.4 L537.8,3216.8 L540.4,3220.2 L542.9,3223.5 L545.5,3226.8 L548.0,3230.1 L550.6,3233.3 L553.1,3236.4 L555.7,3239.6 L558.2,3242.6 L560.8,3245.7 L563.3,3248.7 L565.9,3251.7 L568.4,3254.6 L571.0,3257.4 L573.5,3260.3 L576.1,3263.1 L578.6,3265.8 L581.2,3268.5 L583.7,3271.2 L586.3,3273.8 L588.8,3276.4 L591.4,3279.0 L593.9,3281.5 L596.5,3283.9 L599.0,3286.3 L601.6,3288.7 L604.1,3291.1 L606.7,3293.4 L609.2,3295.6 L611.8,3297.9 L614.3,3300.0 L616.9,3302.2 L619.4,3304.3 L622.0,3306.4 L624.5,3308.4 L627.1,3310.4 L629.6,3312.4 L632.2,3314.3 L634.7,3316.2 L637.3,3318.1 L639.8,3319.9 L642.4,3321.7 L644.9,3323.5 L647.5,3325.2 L650.0,3326.9 L652.6,3328.6 L655.1,3330.2 L657.7,3331.8 L660.2,3333.4 L662.8,3334.9 L665.3,3336.5 L667.9,3338.0 L670.4,3339.4 L673.0,3340.8 L675.5,3342.3 L678.1,3343.6 L680.6,3345.0 L683.2,3346.3 L685.7,3347.6 L688.3,3348.9 L690.8,3350.1 L693.4,3351.4 L695.9,3352.6 L698.5,3353.7 L701.0,3354.9 L703.6,3356.0 L706.1,3357.2 L708.7,3358.2 L711.2,3359.3 L713.8,3360.4 L716.3,3361.4 L718.9,3362.4 L721.4,3363.4 L724.0,3364.3 L726.5,3365.3 L729.1,3366.2 L731.6,3367.1 L734.2,3368.0 L736.7,3368.9 L739.3,3369.8 L741.8,3370.6 L744.4,3371.4 L746.9,3372.2 L749.5,3373.0 L752.0,3373.8 L754.6,3374.6 L757.1,3375.3 L759.7,3376.0 L762.2,3376.7 L764.8,3377.4 L767.3,3378.1 L769.9,3378.8 L772.4,3379.5 L775.0,3380.1 L777.5,3380.7 L780.1,3381.4 L782.6,3382.0 L785.2,3382.6 L787.7,3383.2 L790.3,3383.7 L792.8,3384.3 L795.4,3384.8 L797.9,3385.4 L800.5,3385.9 L803.0,3386.4 L805.6,3386.9 L808.1,3387.4 L810.7,3387.9 L813.2,3388.4 L815.8,3388.9 L818.3,3389.3 L820.9,3389.8 L823.4,3390.2 L826.0,3390.6 L828.5,3391.0 L831.1,3391.5 L833.6,3391.9 L836.2,3392.3 L838.7,3392.7 L841.3,3393.0 L843.8,3393.4 L846.4,3393.8 L848.9,3394.1 L851.5,3394.5 L854.0,3394.8 L856.6,3395.2 L859.1,3395.5 L861.7,3395.8 L864.2,3396.1 L866.8,3396.4 L869.3,3396.7 L871.9,3397.0 L874.4,3397.3 L877.0,3397.6 L879.5,3397.9 L882.1,3398.2 L884.6,3398.5 L887.2,3398.7 L889.7,3399.0 L892.3,3399.2 L894.8,3399.5 L897.4,3399.7 L899.9,3400.0 L902.5,3400.2 L905.0,3400.4 L907.6,3400.6 L910.1,3400.9 L912.7,3401.1 L915.2,3401.3 L917.8,3401.5 L920.3,3401.7 L922.9,3401.9 L925.4,3402.1 L928.0,3402.3 L930.5,3402.5 L933.1,3402.7 L935.6,3402.8 L938.2,3403.0 L940.7,3403.2 L943.3,3403.4 L945.8,3403.5 L948.4,3403.7 L950.9,3403.9 L953.5,3404.0 L956.0,3404.2 L958.6,3404.3 L961.1,3404.5 L963.7,3404.6 L966.2,3404.8 L968.8,3404.9 L971.3,3405.0 L973.9,3405.2 L976.4,3405.3 L979.0,3405.4 L981.5,3405.5 L984.1,3405.7 L986.6,3405.8 L989.2,3405.9 L991.7,3406.0 L994.3,3406.1 L996.8,3406.3 L999.4,3406.4 L1001.9,3406.5 L1004.5,3406.6 L1007.0,3406.7 L1009.6,3406.8 L1012.1,3406.9 L1014.7,3407.0 L1017.2,3407.1 L1019.8,3407.2 L1022.3,3407.3 L1024.9,3407.4 L1027.4,3407.4 L1030.0,3407.5 L1032.5,3407.6 L1035.1,3407.7 L1037.6,3407.8 L1040.2,3407.9 L1042.7,3407.9 L1045.3,3408.0 L1047.8,3408.1 L1050.4,3408.2 L1052.9,3408.2 L1055.5,3408.3 L1058.0,3408.4 L1060.6,3408.5 L1063.1,3408.5 L1065.7,3408.6 L1068.2,3408.7 L1070.8,3408.7 L1073.3,3408.8 L1075.9,3408.8 L1078.4,3408.9 L1081.0,3409.0 L1083.5,3409.0 L1086.1,3409.1 L1088.6,3409.1 L1091.2,3409.2 L1093.7,3409.2 L1096.3,3409.3 L1098.8,3409.3 L1101.4,3409.4 L1103.9,3409.4 L1106.5,3409.5 L1109.0,3409.5 L1111.6,3409.6 L1114.1,3409.6 L1116.7,3409.7 L1119.2,3409.7 L1121.8,3409.8 L1124.3,3409.8 L1126.9,3409.9 L1129.4,3409.9 L1132.0,3409.9 L1134.5,3410.0 L1137.1,3410.0 L1139.6,3410.1 L1142.2,3410.1 L1144.7,3410.1 L1147.3,3410.2 L1149.8,3410.2 L1152.4,3410.2 L1154.9,3410.3 L1157.5,3410.3 L1160.0,3410.3 L1162.6,3410.4 L1165.1,3410.4 L1167.7,3410.4 L1170.2,3410.5 L1172.8,3410.5 L1175.3,3410.5 L1177.9,3410.5 L1180.4,3410.6 L1183.0,3410.6 L1185.5,3410.6 L1188.1,3410.7 L1190.6,3410.7 L1193.2,3410.7 L1195.7,3410.7 L1198.3,3410.8 L1200.8,3410.8 L1203.4,3410.8 L1205.9,3410.8 L1208.5,3410.9 L1211.0,3410.9 L1213.6,3410.9 L1216.1,3410.9 L1218.7,3410.9 L1221.2,3411.0 L1223.8,3411.0 L1226.3,3411.0 L1228.9,3411.0 L1231.4,3411.0 L1234.0,3411.1 L1236.5,3411.1 L1239.1,3411.1 L1241.6,3411.1 L1244.2,3411.1 L1246.7,3411.2 L1249.3,3411.2 L1251.8,3411.2 L1254.4,3411.2 L1256.9,3411.2 L1259.5,3411.2 L1262.0,3411.3 L1264.6,3411.3 L1267.1,3411.3 L1269.7,3411.3 L1272.2,3411.3 L1274.8,3411.3 L1277.3,3411.3 L1279.9,3411.4 L1282.4,3411.4 L1285.0,3411.4 L1287.5,3411.4 L1290.1,3411.4 L1292.6,3411.4 L1295.2,3411.4 L1297.7,3411.5 L1300.3,3411.5 L1302.8,3411.5 L1305.4,3411.5 L1307.9,3411.5 L1310.5,3411.5 L1313.0,3411.5 L1315.6,3411.5 L1318.1,3411.5 L1320.7,3411.6 L1323.2,3411.6 L1325.8,3411.6 L1328.3,3411.6 L1330.9,3411.6 L1333.4,3411.6 L1336.0,3411.6 L1338.5,3411.6 L1341.1,3411.6 L1343.6,3411.6 L1346.2,3411.7 L1348.7,3411.7 L1351.3,3411.7 L1353.8,3411.7 L1356.4,3411.7 L1358.9,3411.7 L1361.5,3411.7 L1364.0,3411.7 L1366.6,3411.7 L1369.1,3411.7 L1371.7,3411.7 L1374.2,3411.7 L1376.8,3411.7 L1379.3,3411.8 L1381.9,3411.8 L1384.4,3411.8 L1387.0,3411.8 L1389.5,3411.8 L1392.1,3411.8 L1394.6,3411.8 L1397.2,3411.8 L1399.7,3411.8 L1402.3,3411.8 L1404.8,3411.8 L1407.4,3411.8 L1409.9,3411.8 L1412.5,3411.8 L1415.0,3411.8 L1417.6,3411.8 L1420.1,3411.9 L1422.7,3411.9 L1425.2,3411.9 L1427.8,3411.9 L1430.3,3411.9 L1432.9,3411.9 L1435.4,3411.9 L1438.0,3411.9 L1440.5,3411.9 L1443.1,3411.9 L1445.6,3411.9 L1448.2,3411.9 L1450.7,3411.9 L1453.3,3411.9 L1455.8,3411.9 L1458.4,3411.9 L1460.9,3411.9 L1463.5,3411.9 L1466.0,3411.9 L1468.6,3411.9 L1471.1,3411.9 L1473.7,3411.9 L1476.2,3412.0" fill="none" stroke="#262626" stroke-width="7.5" stroke-linejoin="round" stroke-linecap="round"/>
<g stroke="#262626" stroke-width="6.5" stroke-linecap="round" fill="none">
<path d="M202.0,2575.6 V3423.5 H1477.0"/>
<path d="M202.0,3282.2 H221.2"/>
<path d="M202.0,3140.8 H221.2"/>
<path d="M202.0,2999.5 H221.2"/>
<path d="M202.0,2858.2 H221.2"/>
<path d="M202.0,2716.8 H221.2"/>
<path d="M202.0,2575.5 H221.2"/>
<path d="M457.0,3423.5 V3406.5"/>
<path d="M712.0,3423.5 V3406.5"/>
<path d="M967.0,3423.5 V3406.5"/>
<path d="M1222.0,3423.5 V3406.5"/>
<path d="M1477.0,3423.5 V3406.5"/>
</g>
<text x="177" y="3304.4" font-size="61" text-anchor="end">0.3</text>
<text x="177" y="3163.0" font-size="61" text-anchor="end">0.6</text>
<text x="177" y="3021.7" font-size="61" text-anchor="end">0.9</text>
<text x="177" y="2880.4" font-size="61" text-anchor="end">1.2</text>
<text x="177" y="2739.0" font-size="61" text-anchor="end">1.5</text>
<text x="177" y="2597.7" font-size="61" text-anchor="end">1.8</text>
<text x="162.5" y="3495.0" font-size="61" text-anchor="middle">0</text>
<text x="454.2" y="3495.0" font-size="61" text-anchor="middle">1</text>
<text x="709.2" y="3495.0" font-size="61" text-anchor="middle">2</text>
<text x="964.2" y="3495.0" font-size="61" text-anchor="middle">3</text>
<text x="1219.2" y="3495.0" font-size="61" text-anchor="middle">4</text>
<text x="1474.2" y="3495.0" font-size="61" text-anchor="middle">5</text>
<g transform="translate(52.5,3151.2) rotate(-90)">
<text x="0" y="0" font-size="62.3">相对频率</text>
<text x="278" y="-3.5" font-size="62" font-style="italic">f</text><text x="291" y="3.5" font-size="38" style="stroke-width:0.4px">r</text>
</g>
<text x="640.5" y="2656" font-size="61.3">局部取向差平均值为</text>
<text x="1200" y="2652.5" font-size="62">0.967</text>
<circle cx="1362.25" cy="2614" r="9" fill="none" stroke="#1a1a1a" stroke-width="2.8"/>
<text x="555" y="3587.5" font-size="61">局部取向差</text>
<text x="872.5" y="3586.5" font-size="62.5" font-style="italic" style="stroke-width:0.35px">A</text>
<text x="911.5" y="3594.5" font-size="36" style="stroke-width:0.35px">LAM</text>
<text x="999.5" y="3584.0" font-size="62" style="stroke-width:0.45px">/(°)</text>
<text x="604.5" y="3695.0" font-size="66.5">(c)</text>
<text x="699.5" y="3699" font-size="66">过滚压</text>
<defs>
<filter id="tx1" x="0" y="0" width="1" height="1" color-interpolation-filters="sRGB"><feTurbulence type="fractalNoise" baseFrequency="0.15" numOctaves="3" seed="7" result="t"/><feTurbulence type="fractalNoise" baseFrequency="0.05" numOctaves="2" seed="12" result="t2"/><feComposite in="t" in2="t2" operator="arithmetic" k1="0" k2="0.55" k3="0.45" k4="0" result="t"/><feColorMatrix in="t" type="matrix" values="1 0 0 0 0  1 0 0 0 0  1 0 0 0 0  0 0 0 0 1" result="n"/><feGaussianBlur in="SourceGraphic" stdDeviation="14" result="sg"/><feComposite in="n" in2="sg" operator="arithmetic" k1="0" k2="2.8" k3="1" k4="-1.4" result="v"/><feComponentTransfer in="v"><feFuncR type="table" tableValues="0.225 0.23 0.24 0.26 0.30 0.35"/><feFuncG type="table" tableValues="0.235 0.29 0.46 0.59 0.67 0.73"/><feFuncB type="table" tableValues="0.61 0.62 0.52 0.32 0.25 0.24"/><feFuncA type="linear" slope="0" intercept="1"/></feComponentTransfer></filter>
<filter id="tx2" x="0" y="0" width="1" height="1" color-interpolation-filters="sRGB"><feTurbulence type="fractalNoise" baseFrequency="0.16" numOctaves="3" seed="11" result="t"/><feTurbulence type="fractalNoise" baseFrequency="0.045" numOctaves="2" seed="16" result="t2"/><feComposite in="t" in2="t2" operator="arithmetic" k1="0" k2="0.5" k3="0.5" k4="0" result="t"/><feColorMatrix in="t" type="matrix" values="1 0 0 0 0  1 0 0 0 0  1 0 0 0 0  0 0 0 0 1" result="n"/><feComposite in="n" in2="SourceGraphic" operator="arithmetic" k1="0" k2="2.5" k3="1" k4="-1.25" result="v"/><feComponentTransfer in="v"><feFuncR type="table" tableValues="0.20 0.22 0.23 0.24 0.26 0.28 0.34 0.42"/><feFuncG type="table" tableValues="0.22 0.27 0.38 0.50 0.60 0.67 0.73 0.78"/><feFuncB type="table" tableValues="0.60 0.62 0.60 0.50 0.38 0.27 0.24 0.24"/><feFuncA type="linear" slope="0" intercept="1"/></feComponentTransfer></filter>
<linearGradient id="gr2" x1="0.72" y1="0" x2="0.28" y2="1"><stop offset="0" stop-color="#b4b4b4"/><stop offset="0.5" stop-color="#a2a2a2"/><stop offset="0.75" stop-color="#808080"/><stop offset="1" stop-color="#5c5c5c"/></linearGradient>
<clipPath id="c1"><rect x="827.5" y="152" width="637" height="599.5"/></clipPath>
</defs>
<rect x="818" y="144" width="658" height="617" fill="#16130f"/>
<g clip-path="url(#c1)"><g filter="url(#tx1)">
<rect x="827.5" y="152" width="637" height="599.5" fill="#202020"/>
<ellipse cx="937.6" cy="476.2" rx="116.5" ry="157.6" fill="#404040"/>
<ellipse cx="869.1" cy="695.5" rx="82.2" ry="61.7" fill="#4a4a4a"/>
<ellipse cx="1006.1" cy="688.6" rx="82.2" ry="61.7" fill="#424242"/>
<ellipse cx="1163.6" cy="414.6" rx="109.6" ry="75.4" fill="#3b3b3b"/>
<ellipse cx="1108.8" cy="503.6" rx="68.5" ry="48.0" fill="#404040"/>
<ellipse cx="1382.9" cy="346.1" rx="61.7" ry="41.1" fill="#383838"/>
<ellipse cx="1417.1" cy="503.6" rx="48.0" ry="61.7" fill="#383838"/>
<ellipse cx="1259.6" cy="346.1" rx="54.8" ry="34.3" fill="#303030"/>
<ellipse cx="1396.6" cy="668.1" rx="61.7" ry="54.8" fill="#383838"/>
<ellipse cx="896.5" cy="346.1" rx="24.0" ry="41.1" fill="#000000"/>
<ellipse cx="1088.3" cy="579.0" rx="19.2" ry="41.1" fill="#000000"/>
<ellipse cx="1341.8" cy="414.6" rx="82.2" ry="61.7" fill="#080808"/>
<ellipse cx="1259.6" cy="654.4" rx="75.4" ry="48.0" fill="#050505"/>
<ellipse cx="937.6" cy="640.7" rx="34.3" ry="27.4" fill="#050505"/>
<ellipse cx="1136.2" cy="291.3" rx="287.7" ry="20.6" fill="#050505"/>
<ellipse cx="1369.2" cy="257.0" rx="109.6" ry="20.6" fill="#050505"/>
<ellipse cx="1204.7" cy="537.9" rx="54.8" ry="27.4" fill="#0a0a0a"/>
</g>
<path d="M827.5,152 L827.5,207.5 L828.1,207.5 L839.7,210.8 L846.2,220.7 L859.4,230.6 L867.7,227.3 L864.4,214.1 L869.3,204.2 L880.8,201.9 L895.7,210.8 L908.8,222.4 L913.8,235.5 L925.3,238.8 L930.3,248.7 L931.9,265.2 L941.8,271.8 L955.0,270.1 L971.4,273.4 L981.3,281.7 L994.5,285.0 L1004.4,280.0 L1014.3,285.0 L1027.4,294.8 L1040.6,304.7 L1057.1,309.7 L1073.6,308.0 L1086.7,301.4 L1096.6,299.8 L1106.5,311.3 L1123.0,314.6 L1139.5,317.9 L1140.0,316.3 L1159.8,319.6 L1179.5,322.8 L1189.4,311.3 L1199.3,301.4 L1219.1,298.1 L1238.8,294.8 L1248.7,281.7 L1265.2,281.7 L1278.4,291.6 L1294.8,285.0 L1308.0,271.8 L1324.5,266.8 L1337.7,271.8 L1350.9,285.0 L1370.6,286.6 L1390.4,285.0 L1406.9,278.4 L1423.3,275.1 L1443.1,278.4 L1456.3,285.0 L1466.2,286.6 L1464.5,152 Z" fill="#fdfdfb" stroke="#dfe6f2" stroke-width="2" stroke-linejoin="round"/>
<g fill="#363a9a">
<path d="M1189.4,275.1 L1205.9,257.0 L1222.4,252.0 L1229.6,258.6 L1229.0,271.8 L1215.8,280.0 L1192.7,288.3 Z"/>
<ellipse cx="1286.6" cy="264.5" rx="20.4" ry="10.5"/>
<ellipse cx="1219.1" cy="242.8" rx="4.0" ry="4.0"/>
<ellipse cx="1260.3" cy="245.4" rx="4.0" ry="8.2"/>
<ellipse cx="1277.7" cy="234.9" rx="4.0" ry="4.0"/>
<ellipse cx="1247.1" cy="257.0" rx="2.6" ry="2.6"/>
<ellipse cx="1168.0" cy="309.7" rx="4.0" ry="4.0"/>
<ellipse cx="1420.0" cy="269.1" rx="4.9" ry="2.6"/>
<ellipse cx="1457.9" cy="269.1" rx="8.2" ry="4.9"/>
<ellipse cx="859.4" cy="210.2" rx="2.6" ry="2.6"/>
<ellipse cx="871.9" cy="220.1" rx="4.0" ry="3.0"/>
<ellipse cx="933.5" cy="233.2" rx="3.3" ry="4.6"/>
<ellipse cx="951.7" cy="251.4" rx="2.0" ry="2.0"/>
<ellipse cx="1045.6" cy="293.2" rx="13.2" ry="5.3"/>
</g>
</g>
<rect x="1240" y="719.8" width="184" height="5.8" fill="#fff"/>
<text x="1251" y="693" font-size="62" style="fill:#fff;stroke:#fff;stroke-width:0.6px">10 μm</text>
<rect x="819.5" y="1387" width="654.5" height="612" fill="#b0b0b0"/>
<rect x="817.5" y="1383" width="654.5" height="612" fill="#15110e"/>
<rect x="827.0" y="1389" width="635.0" height="598.5" fill="url(#gr2)" filter="url(#tx2)"/>
<path d="M979.0,1389 C1044.7,1409.2 1110.4,1421.5 1179.8,1421.5 C1249.1,1421.5 1296.5,1411.8 1344.0,1389 Z" fill="#3b4698"/>
<path d="M997.0,1389 C1056.6,1405.4 1116.2,1415.5 1179.0,1415.5 C1241.9,1415.5 1285.0,1407.5 1328.0,1389 Z" fill="#fbf6f4"/>
<path d="M1462.0,1734 L1453.0,1739 L1459.0,1757 L1462.0,1761 Z" fill="#fff"/>
<rect x="1240" y="1955" width="184" height="5.8" fill="#fff"/>
<text x="1251" y="1929.5" font-size="62" style="fill:#fff;stroke:#fff;stroke-width:0.6px">10 μm</text>
<rect x="822.5" y="2723" width="655.5" height="613" fill="#b0b0b0"/>
<rect x="820.5" y="2719" width="655.5" height="613" fill="#15110e"/>
<rect x="830.5" y="2725" width="635.0" height="599" fill="url(#gr2)" filter="url(#tx2)"/>
<rect x="830.5" y="2725" width="635.0" height="599" fill="#000" opacity="0.04"/>
<path d="M982.5,2725 C1048.2,2745.2 1113.9,2757.5 1183.2,2757.5 C1252.6,2757.5 1300.0,2747.8 1347.5,2725 Z" fill="#3b4698"/>
<path d="M1000.5,2725 C1060.1,2741.4 1119.7,2751.5 1182.5,2751.5 C1245.4,2751.5 1288.5,2743.6 1331.5,2725 Z" fill="#fbf6f4"/>
<path d="M1465.5,3070 L1456.5,3075 L1462.5,3093 L1465.5,3097 Z" fill="#fff"/>
<rect x="1240" y="3293.7" width="184" height="5.8" fill="#fff"/>
<text x="1251" y="3267.5" font-size="62" style="fill:#fff;stroke:#fff;stroke-width:0.6px">10 μm</text>
</svg></body></html>
